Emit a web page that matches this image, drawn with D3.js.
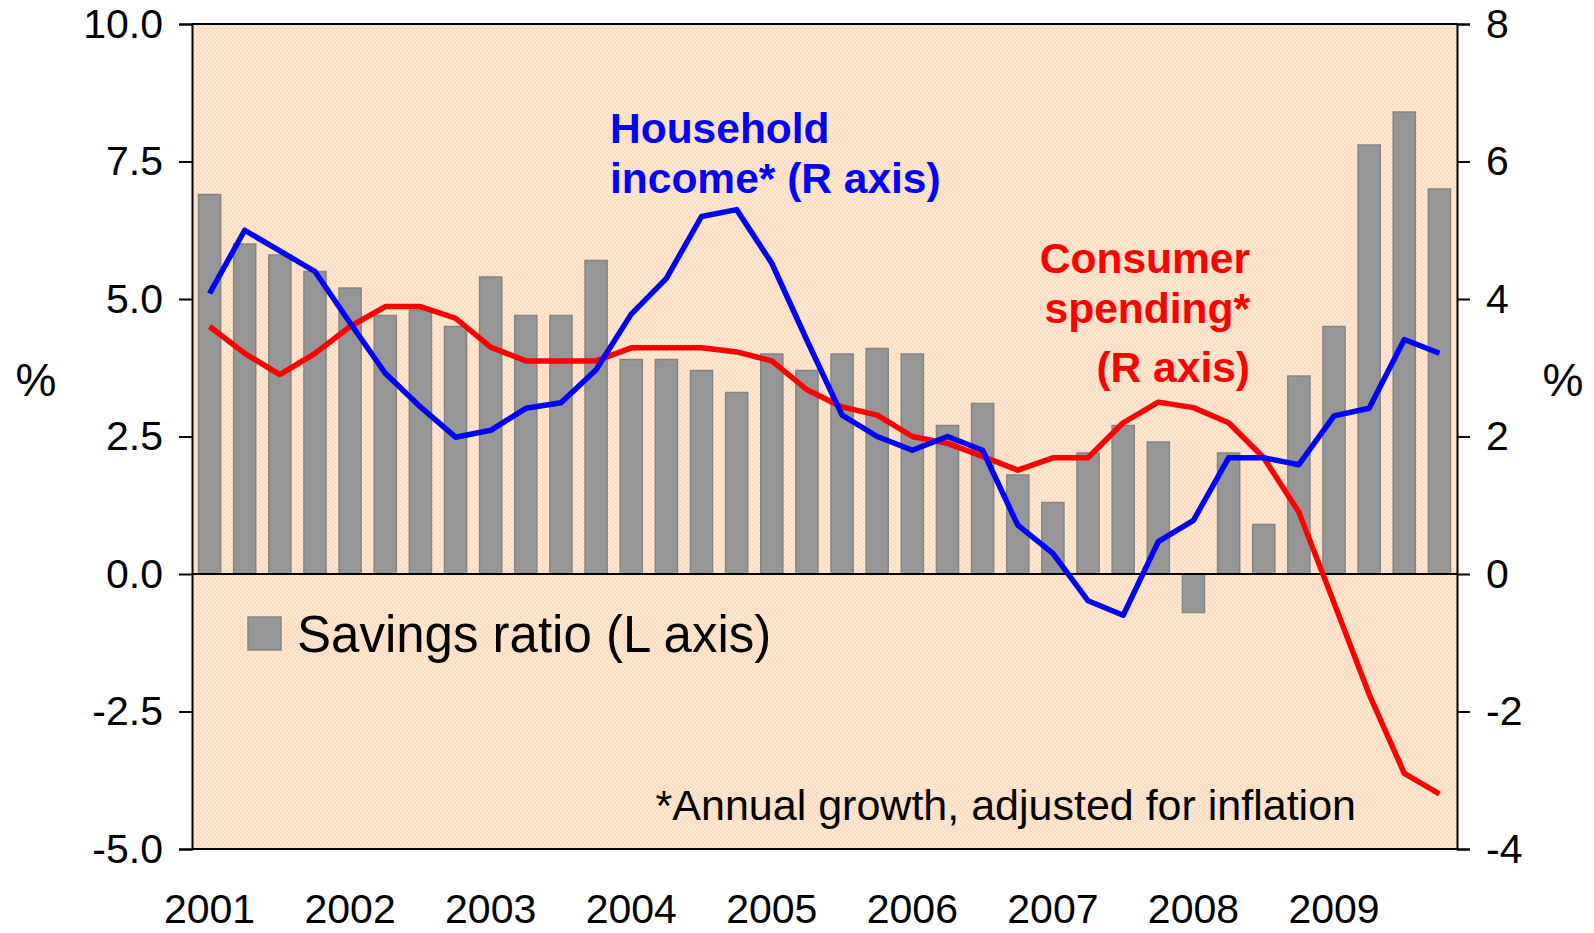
<!DOCTYPE html>
<html lang="en">
<head>
  <meta charset="UTF-8">
  <title>Savings ratio, household income and consumer spending</title>
  <script src="https://cdn.jsdelivr.net/npm/d3@7"></script>
  <style>
  body{
    margin: 0;
    background: #fff;
  }
  text{
    font-family: 'Liberation Sans', Arial, sans-serif;
    fill: #000;
  }
  .axis path, .axis line{
    stroke: #000;
    stroke-width: 2;
  }
  .axis text{
    font-size: 41px;
  }
  .years text{
    font-size: 41px;
  }
  .etiqueta{
    font-weight: bold;
    font-size: 42.5px;
  }
  </style>
</head>
<body>
  <div id="grafico"></div>

  <script>
    // data, one value per quarter 2001Q1 .. 2009Q4
    var years = ["2001", "2002", "2003", "2004", "2005", "2006", "2007", "2008", "2009"];
    var quarters = ["Q1", "Q2", "Q3", "Q4"];
    var savings = [6.9, 6.0, 5.8, 5.5, 5.2, 4.7, 4.8, 4.5, 5.4, 4.7, 4.7, 5.7,
                   3.9, 3.9, 3.7, 3.3, 4.0, 3.7, 4.0, 4.1, 4.0, 2.7, 3.1, 1.8,
                   1.3, 2.2, 2.7, 2.4, -0.7, 2.2, 0.9, 3.6, 4.5, 7.8, 8.4, 7.0];
    var income = [4.08, 5.0, 4.7, 4.4, 3.65, 2.92, 2.43, 1.99, 2.09, 2.41, 2.49, 2.97,
                  3.78, 4.3, 5.2, 5.3, 4.52, 3.4, 2.31, 2.0, 1.8, 2.0, 1.8, 0.71,
                  0.3, -0.39, -0.6, 0.47, 0.78, 1.69, 1.69, 1.59, 2.3, 2.41, 3.41, 3.21];
    var spending = [3.6, 3.21, 2.9, 3.21, 3.6, 3.89, 3.89, 3.72, 3.3, 3.1, 3.1, 3.1,
                    3.29, 3.29, 3.29, 3.23, 3.1, 2.68, 2.43, 2.31, 2.0, 1.9, 1.71, 1.51,
                    1.69, 1.69, 2.2, 2.5, 2.42, 2.2, 1.69, 0.9, -0.42, -1.75, -2.9, -3.2];
    var ticksIzq = [-5, -2.5, 0, 2.5, 5, 7.5, 10];
    var ticksDer = [-4, -2, 0, 2, 4, 6, 8];

    var w = 1594;
    var h = 933;
    var margen = {top: 24, right: 137, bottom: 84, left: 192};
    var ancho = w - margen.left - margen.right;
    var alto = h - margen.top - margen.bottom;

    var periodos = [];
    years.forEach(function(y){
      quarters.forEach(function(q){ periodos.push(y + q); });
    });

    var svg = d3.select("#grafico")
      .append("svg")
      .attr("width", w)
      .attr("height", h);

    // dotted peach background
    var pat = svg.append("defs").append("pattern")
      .attr("id", "puntos")
      .attr("width", 4)
      .attr("height", 4)
      .attr("patternUnits", "userSpaceOnUse");
    pat.append("rect").attr("width", 4).attr("height", 4).attr("fill", "#FFE7D1");
    pat.append("rect").attr("width", 2).attr("height", 2).attr("fill", "#FCDCC0");
    pat.append("rect").attr("x", 2).attr("y", 2).attr("width", 2).attr("height", 2).attr("fill", "#FCDCC0");

    var g = svg.append("g")
      .attr("transform", "translate(" + margen.left + "," + margen.top + ")");

    g.append("rect")
      .attr("width", ancho)
      .attr("height", alto)
      .attr("fill", "url(#puntos)");

    //Escalas
    var xScale = d3.scaleBand()
      .domain(periodos)
      .range([0, ancho])
      .paddingInner(0.37)
      .paddingOuter(0.185);

    var yIzq = d3.scaleLinear().domain([-5, 10]).range([alto, 0]);
    var yDer = d3.scaleLinear().domain([-4, 8]).range([alto, 0]);

    // barras
    g.selectAll(".barra")
      .data(savings)
      .enter()
      .append("rect")
      .attr("class", "barra")
      .attr("x", function(d, i){ return xScale(periodos[i]); })
      .attr("width", xScale.bandwidth())
      .attr("y", function(d){ return yIzq(Math.max(0, d)); })
      .attr("height", function(d){ return Math.abs(yIzq(d) - yIzq(0)); })
      .attr("fill", "#969696")
      .attr("stroke", "#858585")
      .attr("stroke-width", 1.5);

    // zero line
    g.append("line")
      .attr("x1", 0).attr("x2", ancho)
      .attr("y1", yIzq(0)).attr("y2", yIzq(0))
      .attr("stroke", "#000")
      .attr("stroke-width", 2);

    // top and bottom border
    g.append("line")
      .attr("x1", 0).attr("x2", ancho)
      .attr("y1", 0).attr("y2", 0)
      .attr("stroke", "#000").attr("stroke-width", 2);
    g.append("line")
      .attr("x1", 0).attr("x2", ancho)
      .attr("y1", alto).attr("y2", alto)
      .attr("stroke", "#000").attr("stroke-width", 2);

    // lineas
    var xc = function(i){ return xScale(periodos[i]) + xScale.bandwidth() / 2; };
    var linea = d3.line()
      .x(function(d, i){ return xc(i); })
      .y(function(d){ return yDer(d); });

    g.append("path")
      .datum(spending)
      .attr("d", linea)
      .attr("fill", "none")
      .attr("stroke", "#FF0000")
      .attr("stroke-width", 5.5)
      .attr("stroke-linejoin", "round");

    g.append("path")
      .datum(income)
      .attr("d", linea)
      .attr("fill", "none")
      .attr("stroke", "#0000FF")
      .attr("stroke-width", 5.5)
      .attr("stroke-linejoin", "round");

    // ejes
    g.append("g")
      .attr("class", "axis")
      .call(d3.axisLeft(yIzq).tickValues(ticksIzq).tickSize(13).tickPadding(16))
      .call(function(a){ a.selectAll("text").text(function(d){ return d3.format(".1f")(d).replace("−", "-"); }); });

    g.append("g")
      .attr("class", "axis")
      .attr("transform", "translate(" + ancho + ",0)")
      .call(d3.axisRight(yDer).tickValues(ticksDer).tickSize(13).tickPadding(16))
      .call(function(a){ a.selectAll("text").text(function(d){ return String(d); }); });

    g.append("g")
      .attr("class", "axis years")
      .attr("transform", "translate(0," + alto + ")")
      .call(d3.axisBottom(xScale)
        .tickValues(periodos.filter(function(p){ return p.slice(4) === "Q1"; }))
        .tickFormat(function(p){ return p.slice(0, 4); })
        .tickSize(0)
        .tickPadding(45))
      .call(function(a){ a.select(".domain").remove(); });

    // % labels
    svg.append("text")
      .attr("x", 36).attr("y", 396)
      .attr("text-anchor", "middle")
      .style("font-size", "46px")
      .text("%");
    svg.append("text")
      .attr("x", 1563).attr("y", 396)
      .attr("text-anchor", "middle")
      .style("font-size", "46px")
      .text("%");

    // etiquetas de las series
    var hh = svg.append("text")
      .attr("class", "etiqueta")
      .attr("x", 610)
      .style("fill", "#0000FF");
    hh.append("tspan").attr("x", 610).attr("y", 143).text("Household");
    hh.append("tspan").attr("x", 610).attr("y", 193).text("income* (R axis)");

    var cs = svg.append("text")
      .attr("class", "etiqueta")
      .attr("text-anchor", "end")
      .style("fill", "#FF0000");
    cs.append("tspan").attr("x", 1250).attr("y", 273).text("Consumer");
    cs.append("tspan").attr("x", 1250).attr("y", 323).text("spending*");
    cs.append("tspan").attr("x", 1250).attr("y", 382).text("(R axis)");

    // leyenda
    svg.append("rect")
      .attr("x", 248).attr("y", 617)
      .attr("width", 33).attr("height", 33)
      .attr("fill", "#969696")
      .attr("stroke", "#858585")
      .attr("stroke-width", 1.5);
    svg.append("text")
      .attr("x", 297).attr("y", 652)
      .style("font-size", "51px")
      .text("Savings ratio (L axis)");

    // nota
    svg.append("text")
      .attr("x", 1356).attr("y", 820)
      .attr("text-anchor", "end")
      .style("font-size", "43px")
      .text("*Annual growth, adjusted for inflation");
  </script>
</body>
</html>
